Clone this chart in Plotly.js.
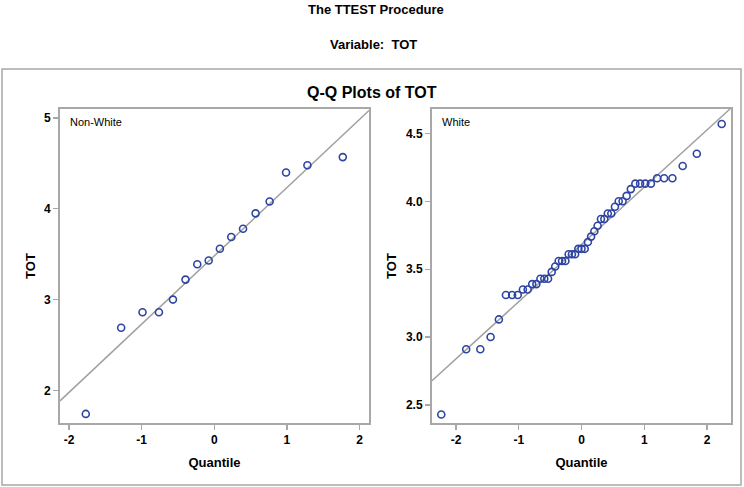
<!DOCTYPE html>
<html>
<head>
<meta charset="utf-8">
<script src="https://cdn.plot.ly/plotly-3.0.1.min.js"></script>
<style>html,body{margin:0;padding:0;background:#fff;}#chart{width:744px;height:487px;}</style>
</head>
<body>
<div id="chart"></div>
<script>
// Non-White group: normal quantiles and sorted TOT values
const nonWhiteQuantile = [-1.769,-1.282,-0.988,-0.762,-0.569,-0.396,-0.234,-0.077,0.077,0.234,0.396,0.569,0.762,0.988,1.282,1.769];
const nonWhiteTOT = [1.74,2.69,2.86,2.86,3.00,3.22,3.39,3.43,3.56,3.69,3.78,3.95,4.08,4.40,4.48,4.57];

// White group
const whiteQuantile = [-2.235,-1.838,-1.613,-1.449,-1.317,-1.205,-1.106,-1.016,-0.934,-0.858,-0.786,-0.719,-0.655,-0.593,-0.533,-0.475,-0.419,-0.364,-0.310,-0.257,-0.205,-0.153,-0.102,-0.051,0,0.051,0.102,0.153,0.205,0.257,0.310,0.364,0.419,0.475,0.533,0.593,0.655,0.719,0.786,0.858,0.934,1.016,1.106,1.205,1.317,1.449,1.613,1.838,2.235];
const whiteTOT = [2.43,2.91,2.91,3.00,3.13,3.31,3.31,3.31,3.35,3.35,3.39,3.39,3.43,3.43,3.43,3.48,3.52,3.56,3.56,3.56,3.61,3.61,3.61,3.65,3.65,3.65,3.70,3.74,3.78,3.82,3.87,3.87,3.91,3.91,3.96,4.00,4.00,4.04,4.09,4.13,4.13,4.13,4.13,4.17,4.17,4.17,4.26,4.35,4.57];

const panelLabels = ["Non-White", "White"];
const xTicks = [-2,-1,0,1,2];
const leftYTicks = [2,3,4,5];
const rightYTicks = [2.5,3.0,3.5,4.0,4.5];

const xRangeL = [-2.124, 2.13], yRangeL = [1.64, 5.10];
const xRangeR = [-2.383, 2.383], yRangeR = [2.367, 4.68];

function meanSd(a){
  const m = a.reduce((s,v)=>s+v,0)/a.length;
  const v = a.reduce((s,x)=>s+(x-m)*(x-m),0)/(a.length-1);
  return [m, Math.sqrt(v)];
}
function refLine(vals, xr, xa, ya){
  const [m,s] = meanSd(vals);
  return {x:[xr[0],xr[1]], y:[m+s*xr[0], m+s*xr[1]], xaxis:xa, yaxis:ya, mode:'lines',
    line:{color:'#a0a0a0', width:1.5}, hoverinfo:'skip', showlegend:false, cliponaxis:true};
}
const markerStyle = {symbol:'circle-open', size:7, color:'#2E44A3', line:{width:1.6, color:'#2E44A3'}};

const traces = [
  refLine(nonWhiteTOT, xRangeL, 'x', 'y'),
  {x:nonWhiteQuantile, y:nonWhiteTOT, xaxis:'x', yaxis:'y', mode:'markers', marker:markerStyle, showlegend:false},
  refLine(whiteTOT, xRangeR, 'x2', 'y2'),
  {x:whiteQuantile, y:whiteTOT, xaxis:'x2', yaxis:'y2', mode:'markers', marker:markerStyle, showlegend:false}
];

const FONT = 'Liberation Sans, Arial, sans-serif';
const W = 744, H = 487;
const px = v => v/W, py = v => (H - v)/H;

const axCommon = {showgrid:false, zeroline:false, showline:true, linecolor:'#a8a8a8', linewidth:2, mirror:true,
  ticks:'outside', ticklen:5, tickwidth:1.2, tickcolor:'#a8a8a8',
  tickfont:{family:FONT, size:12, color:'#000', weight:'bold'}, fixedrange:true};
const titleFont = {family:FONT, size:13, color:'#000', weight:'bold'};

const layout = {
  width:W, height:H, margin:{l:0,r:0,t:0,b:0}, paper_bgcolor:'#fff', plot_bgcolor:'#fff',
  showlegend:false,
  xaxis: Object.assign({}, axCommon, {domain:[px(60), px(369)], range:xRangeL, tickvals:xTicks, ticktext:xTicks.map(String), anchor:'y',
    title:{text:'Quantile', font:titleFont, standoff:11}}),
  yaxis: Object.assign({}, axCommon, {domain:[py(423), py(109)], range:yRangeL, tickvals:leftYTicks, ticktext:leftYTicks.map(String), anchor:'x',
    title:{text:'TOT', font:titleFont, standoff:5}}),
  xaxis2: Object.assign({}, axCommon, {domain:[px(432), px(731)], range:xRangeR, tickvals:xTicks, ticktext:xTicks.map(String), anchor:'y2',
    title:{text:'Quantile', font:titleFont, standoff:11}}),
  yaxis2: Object.assign({}, axCommon, {domain:[py(423), py(109)], range:yRangeR, tickvals:rightYTicks, ticktext:rightYTicks.map(v=>v.toFixed(1)), anchor:'x2',
    title:{text:'TOT', font:titleFont, standoff:6}}),
  shapes:[{type:'rect', xref:'paper', yref:'paper', x0:px(2), x1:px(741), y0:py(485), y1:py(69),
    line:{color:'#a8a8a8', width:1.5}, fillcolor:'rgba(0,0,0,0)', layer:'below'}],
  annotations:[
    {text:'The TTEST Procedure', xref:'paper', yref:'paper', x:px(376), y:py(10), xanchor:'center', yanchor:'middle', showarrow:false,
      font:{family:FONT, size:13, color:'#000', weight:'bold'}},
    {text:'Variable:\u00a0\u00a0TOT', xref:'paper', yref:'paper', x:px(373), y:py(44), xanchor:'center', yanchor:'middle', showarrow:false,
      font:{family:FONT, size:13, color:'#000', weight:'bold'}},
    {text:'Q-Q Plots of TOT', xref:'paper', yref:'paper', x:px(372), y:py(92), xanchor:'center', yanchor:'middle', showarrow:false,
      font:{family:FONT, size:16, color:'#000', weight:'bold'}},
    {text:panelLabels[0], xref:'x domain', yref:'y domain', x:0.026, y:0.985, xanchor:'left', yanchor:'top', showarrow:false,
      font:{family:FONT, size:11, color:'#000'}},
    {text:panelLabels[1], xref:'x2 domain', yref:'y2 domain', x:0.026, y:0.985, xanchor:'left', yanchor:'top', showarrow:false,
      font:{family:FONT, size:11, color:'#000'}}
  ]
};

Plotly.newPlot('chart', traces, layout, {displayModeBar:false, staticPlot:true});
</script>
</body>
</html>
